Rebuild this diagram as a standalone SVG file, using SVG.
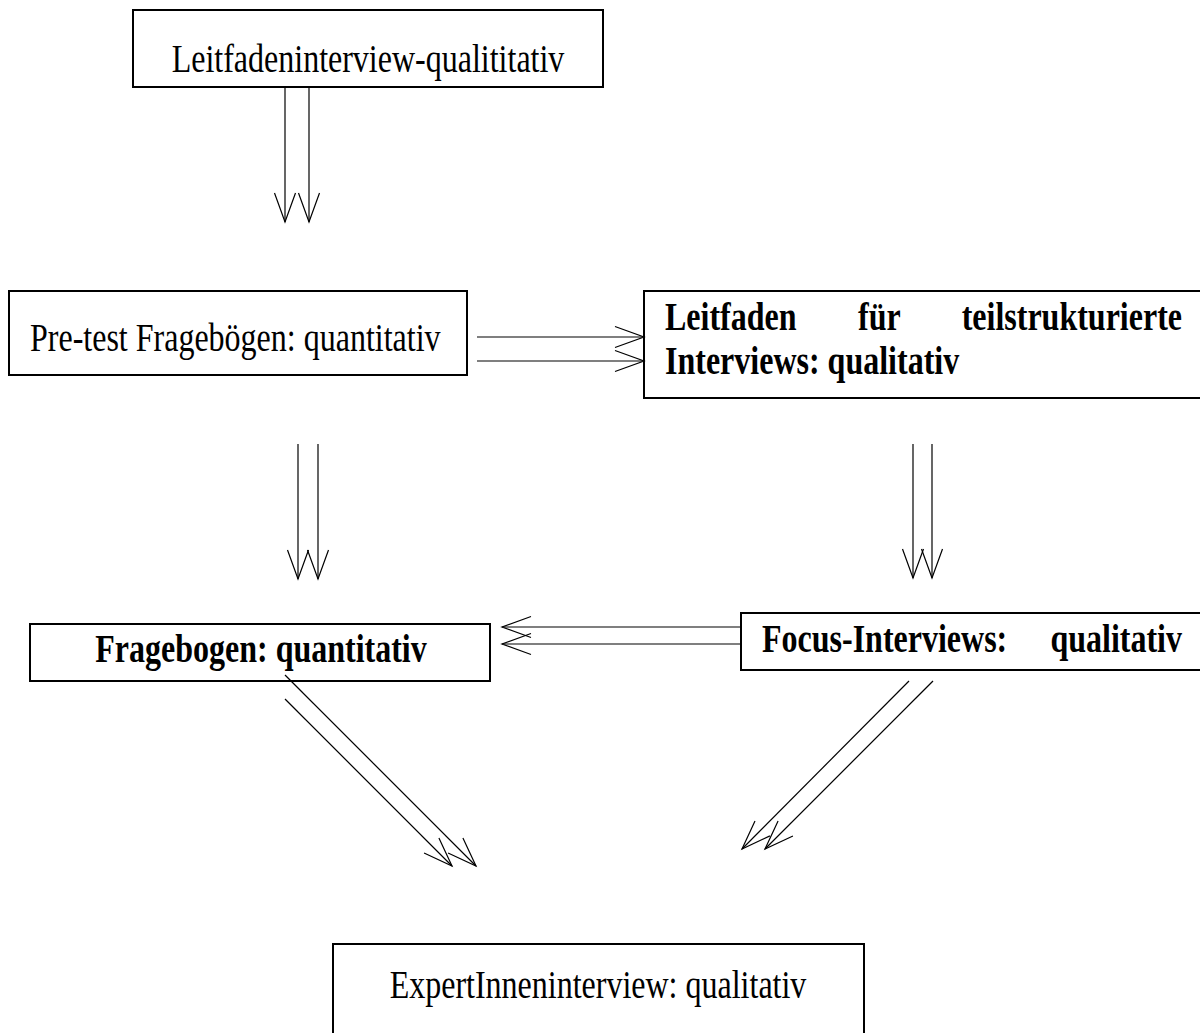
<svg xmlns="http://www.w3.org/2000/svg" width="1200" height="1033" viewBox="0 0 1200 1033">
  <style>
    .box { fill: #fff; stroke: #000; stroke-width: 2; }
    .t { font-family: "Liberation Serif", "Times New Roman", serif; font-size: 40px; fill: #000; }
    .b { font-weight: bold; }
    .m { text-anchor: middle; }
    .e { text-anchor: end; }
    .c { fill: none; stroke: #000; stroke-width: 1.2; }
  </style>
  <defs>
    <!-- open V arrowhead -->
    <marker id="vhead" markerUnits="userSpaceOnUse" viewBox="-35 -15 40 30" refX="0" refY="0" markerWidth="40" markerHeight="30" orient="auto" overflow="visible">
      <path d="M-29,-10.5 L0,0 L-29,10.5" fill="none" stroke="#000" stroke-width="1.2"/>
    </marker>
  </defs>
  <rect width="1200" height="1033" fill="#fff"/>

  <g id="leitfadeninterview">
    <rect class="box" x="133" y="10" width="470" height="77"/>
    <text class="t m" transform="translate(368,72) scale(0.8,1)">Leitfadeninterview-qualititativ</text>
  </g>

  <g id="pretest">
    <rect class="box" x="9" y="291" width="458" height="84"/>
    <text class="t" transform="translate(30,351) scale(0.8,1)">Pre-test Fragebögen: quantitativ</text>
  </g>

  <g id="leitfaden-teilstrukturiert">
    <rect class="box" x="644" y="291" width="570" height="107"/>
    <text class="t b" transform="translate(665,330) scale(0.8,1)">Leitfaden</text>
    <text class="t b" transform="translate(858,330) scale(0.8,1)">für</text>
    <text class="t b e" transform="translate(1182,330) scale(0.8,1)">teilstrukturierte</text>
    <text class="t b" transform="translate(665,374) scale(0.8,1)">Interviews: qualitativ</text>
  </g>

  <g id="fragebogen">
    <rect class="box" x="30" y="624" width="460" height="57"/>
    <text class="t b m" transform="translate(261,662) scale(0.8,1)">Fragebogen: quantitativ</text>
  </g>

  <g id="focus-interviews">
    <rect class="box" x="741" y="613" width="470" height="57"/>
    <text class="t b" transform="translate(762,652) scale(0.8,1)">Focus-Interviews:</text>
    <text class="t b e" transform="translate(1182,652) scale(0.8,1)">qualitativ</text>
  </g>

  <g id="experteninterview">
    <rect class="box" x="333" y="944" width="531" height="110"/>
    <text class="t m" transform="translate(598,998) scale(0.8,1)">ExpertInneninterview: qualitativ</text>
  </g>

  <g id="connectors">
    <line class="c" x1="285" y1="87" x2="285" y2="222" marker-end="url(#vhead)"/>
    <line class="c" x1="309" y1="87" x2="309" y2="222" marker-end="url(#vhead)"/>

    <line class="c" x1="477" y1="337" x2="644" y2="337" marker-end="url(#vhead)"/>
    <line class="c" x1="477" y1="361" x2="644" y2="361" marker-end="url(#vhead)"/>

    <line class="c" x1="298" y1="444" x2="298" y2="579" marker-end="url(#vhead)"/>
    <line class="c" x1="318" y1="444" x2="318" y2="579" marker-end="url(#vhead)"/>

    <line class="c" x1="913" y1="444" x2="913" y2="578" marker-end="url(#vhead)"/>
    <line class="c" x1="932" y1="444" x2="932" y2="578" marker-end="url(#vhead)"/>

    <line class="c" x1="741" y1="627" x2="502" y2="627" marker-end="url(#vhead)"/>
    <line class="c" x1="741" y1="644" x2="502" y2="644" marker-end="url(#vhead)"/>

    <line class="c" x1="285" y1="675" x2="476" y2="866" marker-end="url(#vhead)"/>
    <line class="c" x1="285" y1="699" x2="452" y2="866" marker-end="url(#vhead)"/>

    <line class="c" x1="909" y1="681" x2="742" y2="849" marker-end="url(#vhead)"/>
    <line class="c" x1="933" y1="681" x2="765" y2="849" marker-end="url(#vhead)"/>
  </g>
</svg>
